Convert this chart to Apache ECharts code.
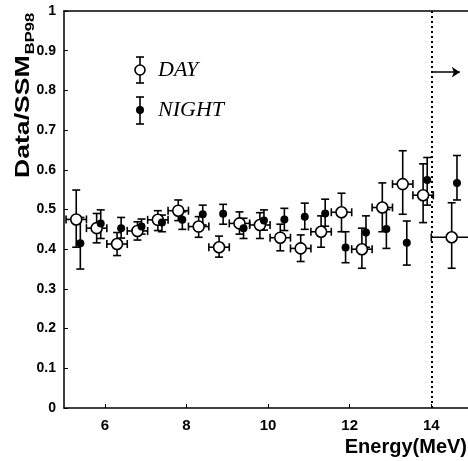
<!DOCTYPE html>
<html>
<head>
<meta charset="utf-8">
<script src="https://cdn.jsdelivr.net/npm/echarts@6/dist/echarts.min.js"></script>
<style>
  html, body { margin: 0; padding: 0; background: #fff; }
  #chart { width: 468px; height: 461px; }
</style>
</head>
<body>
<div id="chart"></div>
<script>
// DAY points (open circles), energy in MeV
const dayEnergy = [5.3, 5.8, 6.3, 6.8, 7.3, 7.8, 8.3, 8.8, 9.3, 9.8, 10.3, 10.8, 11.3, 11.8, 12.3, 12.8, 13.3, 13.8, 14.5];
const dayBinLow = [5.05, 5.55, 6.05, 6.55, 7.05, 7.55, 8.05, 8.55, 9.05, 9.55, 10.05, 10.55, 11.05, 11.55, 12.05, 12.55, 13.05, 13.55, 14.0];
const dayBinHigh = [5.55, 6.05, 6.55, 7.05, 7.55, 8.05, 8.55, 9.05, 9.55, 10.05, 10.55, 11.05, 11.55, 12.05, 12.55, 13.05, 13.55, 14.05, 20];
const dayRatio = [0.475, 0.453, 0.413, 0.446, 0.474, 0.497, 0.457, 0.405, 0.465, 0.461, 0.429, 0.402, 0.444, 0.493, 0.400, 0.505, 0.564, 0.536, 0.430];
const dayHigh = [0.549, 0.490, 0.442, 0.469, 0.497, 0.524, 0.482, 0.433, 0.494, 0.492, 0.463, 0.436, 0.484, 0.541, 0.453, 0.567, 0.648, 0.615, 0.517];
const dayLow = [0.405, 0.416, 0.384, 0.423, 0.447, 0.472, 0.430, 0.380, 0.438, 0.427, 0.396, 0.369, 0.405, 0.444, 0.352, 0.444, 0.488, 0.467, 0.352];

// NIGHT points (filled circles)
const nightEnergy = [5.4, 5.9, 6.4, 6.9, 7.4, 7.9, 8.4, 8.9, 9.4, 9.9, 10.4, 10.9, 11.4, 11.9, 12.4, 12.9, 13.4, 13.9, 14.63];
const nightRatio = [0.415, 0.465, 0.453, 0.457, 0.467, 0.474, 0.488, 0.489, 0.453, 0.472, 0.475, 0.482, 0.490, 0.404, 0.442, 0.451, 0.416, 0.574, 0.567];
const nightHigh = [0.480, 0.499, 0.480, 0.476, 0.486, 0.494, 0.511, 0.513, 0.478, 0.499, 0.503, 0.516, 0.526, 0.444, 0.484, 0.500, 0.471, 0.631, 0.636];
const nightLow = [0.350, 0.427, 0.428, 0.438, 0.444, 0.450, 0.461, 0.463, 0.427, 0.448, 0.447, 0.450, 0.458, 0.366, 0.405, 0.402, 0.360, 0.511, 0.524];

// axis ticks
const xTicks = [6, 8, 10, 12, 14];
const energyCut = 14;

let myChart = echarts.init(document.getElementById("chart"));

let dayData = dayEnergy.map((e, i) => [e, dayRatio[i], dayLow[i], dayHigh[i], dayBinLow[i], dayBinHigh[i]]);
let nightData = nightEnergy.map((e, i) => [e, nightRatio[i], nightLow[i], nightHigh[i]]);

const CAP = 4;
const LINE = { stroke: "#000", lineWidth: 1.6 };

function seg(x1, y1, x2, y2) {
  return { type: "line", shape: { x1: x1, y1: y1, x2: x2, y2: y2 }, style: LINE };
}

function dayBars(params, api) {
  let c = api.coord([api.value(0), api.value(1)]);
  let top = api.coord([api.value(0), api.value(3)]);
  let bot = api.coord([api.value(0), api.value(2)]);
  let l = api.coord([api.value(4), api.value(1)]);
  let r = api.coord([api.value(5), api.value(1)]);
  return {
    type: "group",
    children: [
      seg(c[0], top[1], c[0], bot[1]),
      seg(c[0] - CAP, top[1], c[0] + CAP, top[1]),
      seg(c[0] - CAP, bot[1], c[0] + CAP, bot[1]),
      seg(l[0], c[1], r[0], c[1]),
      seg(l[0], c[1] - CAP, l[0], c[1] + CAP),
      seg(r[0], c[1] - CAP, r[0], c[1] + CAP),
    ],
  };
}

function nightBars(params, api) {
  let c = api.coord([api.value(0), api.value(1)]);
  let top = api.coord([api.value(0), api.value(3)]);
  let bot = api.coord([api.value(0), api.value(2)]);
  return {
    type: "group",
    children: [
      seg(c[0], top[1], c[0], bot[1]),
      seg(c[0] - CAP, top[1], c[0] + CAP, top[1]),
      seg(c[0] - CAP, bot[1], c[0] + CAP, bot[1]),
    ],
  };
}

let option = {
  animation: false,
  grid: { left: 64, right: 0, top: 11, bottom: 53 },
  xAxis: [
    {
      type: "value",
      min: 5,
      max: 14.9,
      axisLine: { show: true, lineStyle: { color: "#000", width: 1.5 } },
      axisTick: { show: true, inside: true, length: 4, customValues: xTicks, lineStyle: { color: "#000" } },
      axisLabel: {
        customValues: xTicks,
        margin: 10,
        color: "#000",
        fontSize: 15,
        fontWeight: "bold",
        fontFamily: "Liberation Sans",
      },
      splitLine: { show: false },
    },
    {
      type: "value",
      position: "top",
      min: 5,
      max: 14.9,
      axisLine: { show: true, lineStyle: { color: "#000", width: 1.5 } },
      axisTick: { show: false },
      axisLabel: { show: false },
      splitLine: { show: false },
    },
  ],
  yAxis: {
    type: "value",
    min: 0,
    max: 1,
    interval: 0.1,
    axisLine: { show: true, lineStyle: { color: "#000", width: 1.5 } },
    axisTick: { show: true, inside: true, length: 4, lineStyle: { color: "#000" } },
    axisLabel: {
      margin: 8,
      color: "#000",
      fontSize: 14,
      fontWeight: "bold",
      fontFamily: "Liberation Sans",
      formatter: (v) => String(Math.round(v * 10) / 10),
    },
    splitLine: { show: false },
  },
  graphic: [
    // y axis title with subscript
    {
      type: "group",
      x: 33,
      y: 178,
      rotation: Math.PI / 2,
      scaleX: 1.33,
      children: [
        {
          type: "text",
          x: 0,
          y: 0,
          style: { text: "Data/SSM", font: 'bold 20px "Liberation Sans"', fill: "#000", verticalAlign: "bottom" },
        },
        {
          type: "text",
          x: 93,
          y: 4,
          style: { text: "BP98", font: 'bold 12.5px "Liberation Sans"', fill: "#000", verticalAlign: "bottom" },
        },
      ],
    },
    {
      type: "text",
      right: 1,
      top: 437,
      style: { text: "Energy(MeV)", font: 'bold 20px "Liberation Sans"', fill: "#000" },
    },
    // legend
    { type: "line", shape: { x1: 140, y1: 57, x2: 140, y2: 83 }, style: LINE },
    { type: "line", shape: { x1: 136, y1: 57, x2: 144, y2: 57 }, style: LINE },
    { type: "line", shape: { x1: 136, y1: 83, x2: 144, y2: 83 }, style: LINE },
    { type: "circle", shape: { cx: 140, cy: 70, r: 5 }, style: { fill: "#fff", stroke: "#000", lineWidth: 1.6 } },
    {
      type: "text",
      x: 158,
      y: 70,
      style: { text: "DAY", font: 'italic 22px "Liberation Serif"', fill: "#000", verticalAlign: "middle" },
    },
    { type: "line", shape: { x1: 140, y1: 97, x2: 140, y2: 124 }, style: LINE },
    { type: "line", shape: { x1: 136, y1: 97, x2: 144, y2: 97 }, style: LINE },
    { type: "line", shape: { x1: 136, y1: 124, x2: 144, y2: 124 }, style: LINE },
    { type: "circle", shape: { cx: 140, cy: 110, r: 4 }, style: { fill: "#000" } },
    {
      type: "text",
      x: 158,
      y: 110,
      style: { text: "NIGHT", font: 'italic 22px "Liberation Serif"', fill: "#000", verticalAlign: "middle" },
    },
  ],
  series: [
    {
      name: "DAY bars",
      type: "custom",
      clip: true,
      renderItem: dayBars,
      data: dayData,
      z: 2,
    },
    {
      name: "NIGHT bars",
      type: "custom",
      clip: true,
      renderItem: nightBars,
      data: nightData,
      z: 2,
    },
    {
      name: "DAY",
      type: "scatter",
      symbol: "circle",
      symbolSize: 11,
      itemStyle: { color: "#fff", borderColor: "#000", borderWidth: 1.6, opacity: 1 },
      data: dayData.map((d) => [d[0], d[1]]),
      z: 3,
    },
    {
      name: "NIGHT",
      type: "scatter",
      symbol: "circle",
      symbolSize: 8,
      itemStyle: { color: "#000", opacity: 1 },
      data: nightData.map((d) => [d[0], d[1]]),
      z: 4,
      markLine: {
        silent: true,
        symbol: "none",
        label: { show: false },
        lineStyle: { color: "#000", type: [2, 3], width: 2 },
        data: [{ xAxis: energyCut }],
      },
    },
    {
      name: "arrow",
      type: "line",
      data: [],
      markLine: {
        silent: true,
        symbol: ["none", "arrow"],
        symbolSize: 8,
        label: { show: false },
        lineStyle: { color: "#000", type: "solid", width: 1.5 },
        data: [[{ coord: [14.02, 0.846] }, { coord: [14.7, 0.846] }]],
      },
    },
  ],
};

myChart.setOption(option);
</script>
</body>
</html>
